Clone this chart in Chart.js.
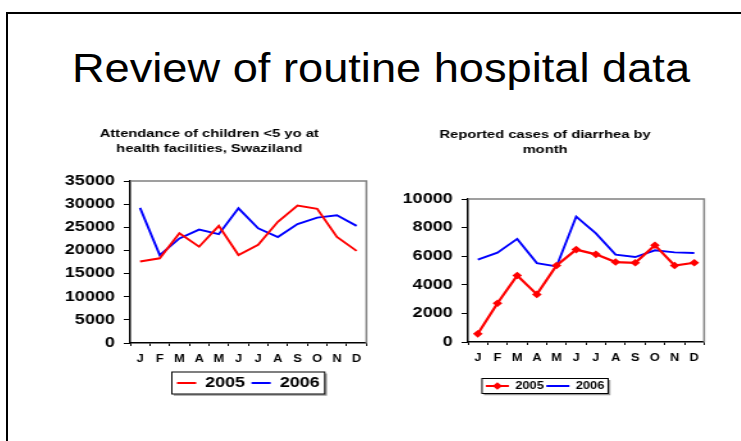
<!DOCTYPE html>
<html>
<head>
<meta charset="utf-8">
<script src="https://cdn.jsdelivr.net/npm/chart.js@4"></script>
<style>
  body { margin: 0; background: #fff; }
  #slide { position: relative; width: 741px; height: 441px; overflow: hidden; background: #fff; }
  #frame { position: absolute; left: 6px; top: 12px; width: 800px; height: 500px;
           border-top: 2px solid #000; border-left: 2px solid #000; }
  #heading { position: absolute; left: 0; top: 46px; width: 762px; height: 48px; line-height: 48px;
             text-align: center; font: 40px 'Liberation Sans', Arial, sans-serif; color: #000;
             transform: scaleX(1.13); transform-origin: 381px 24px; white-space: nowrap; }
  canvas { position: absolute; }
</style>
</head>
<body>
<div id="slide">
  <div id="frame"></div>
  <div id="heading">Review of routine hospital data</div>
  <canvas id="attendChart" width="252" height="282" style="left:52px; top:118px; width:322.5px; height:282px;"></canvas>
  <canvas id="diarrheaChart" width="253" height="282" style="left:386px; top:119px; width:324px; height:282px;"></canvas>
</div>
<script>
// data
const months = ["J", "F", "M", "A", "M", "J", "J", "A", "S", "O", "N", "D"];

const attend2005 = [17600, 18300, 23700, 20800, 25300, 19000, 21200, 26200, 29700, 29000, 22900, 19900];
const attend2006 = [29200, 19000, 22600, 24500, 23500, 29100, 24800, 22900, 25700, 27100, 27600, 25300];

const diarrhea2005 = [570, 2710, 4650, 3330, 5350, 6460, 6130, 5590, 5540, 6770, 5350, 5540];
const diarrhea2006 = [5760, 6250, 7210, 5520, 5280, 8770, 7600, 6110, 5940, 6410, 6270, 6220];

const attendTicks = { min: 0, max: 35000, step: 5000 };
const diarrheaTicks = { min: 0, max: 10000, step: 2000 };

const FONT = "'Liberation Sans', Arial, sans-serif";
Chart.defaults.color = "#000";
Chart.defaults.font.family = FONT;

// grey box round the plot area (top + right side)
const plotFrame = {
  id: "plotFrame",
  beforeDatasetsDraw(chart) {
    const { ctx, chartArea: a } = chart;
    ctx.save();
    ctx.strokeStyle = "#808080";
    ctx.lineWidth = 1.5;
    ctx.beginPath();
    ctx.moveTo(a.left, a.top);
    ctx.lineTo(a.right, a.top);
    ctx.lineTo(a.right, a.bottom);
    ctx.stroke();
    ctx.restore();
  }
};

// black box round the legend, plus diamond markers when asked
const legendBox = {
  id: "legendBox",
  afterDraw(chart, args, opts) {
    const lg = chart.legend;
    if (!lg || !lg.legendHitBoxes.length) return;
    const hb = lg.legendHitBoxes;
    const left = Math.min(...hb.map(h => h.left)) - opts.padX;
    const right = Math.max(...hb.map(h => h.left + h.width)) + opts.padX;
    const top = hb[0].top - opts.padY;
    const bottom = hb[0].top + hb[0].height + opts.padY;
    const ctx = chart.ctx;
    ctx.save();
    ctx.strokeStyle = "#999";
    ctx.lineWidth = 1.5;
    ctx.beginPath();
    ctx.moveTo(left + 1.5, bottom + 1);
    ctx.lineTo(right + 1, bottom + 1);
    ctx.lineTo(right + 1, top + 1.5);
    ctx.stroke();
    ctx.strokeStyle = "#000";
    ctx.lineWidth = 1;
    ctx.strokeRect(left, top, right - left, bottom - top);

    const boxW = chart.options.plugins.legend.labels.boxWidth;
    const fontSize = chart.options.plugins.legend.labels.font.size;
    hb.forEach((h, i) => {
      const ds = chart.data.datasets[i];
      if (ds.pointStyle !== "rectRot") return;
      const cx = h.left + boxW / 2;
      const cy = h.top + fontSize / 2;
      const r = ds.pointRadius;
      ctx.fillStyle = ds.borderColor;
      ctx.beginPath();
      ctx.moveTo(cx, cy - r);
      ctx.lineTo(cx + r, cy);
      ctx.lineTo(cx, cy + r);
      ctx.lineTo(cx - r, cy);
      ctx.closePath();
      ctx.fill();
    });
    ctx.restore();
  }
};

function lineLabels(chart) {
  return Chart.defaults.plugins.legend.labels.generateLabels(chart).map(item => {
    const ds = chart.data.datasets[item.datasetIndex];
    item.fillStyle = ds.borderColor;
    item.lineWidth = 0;
    return item;
  });
}

function makeChart(id, cfg) {
  return new Chart(document.getElementById(id), {
    type: "line",
    data: { labels: months, datasets: cfg.datasets },
    options: {
      responsive: false,
      animation: false,
      layout: { padding: { left: 0, right: cfg.padRight, top: 0, bottom: 0 } },
      plugins: {
        title: {
          display: true,
          text: cfg.title,
          font: { size: 11.5, weight: "bold", lineHeight: 1.3 },
          padding: { top: 8, bottom: cfg.titleGap }
        },
        legend: {
          position: "bottom",
          fullSize: cfg.legendFull,
          labels: {
            boxWidth: cfg.legend.boxWidth,
            boxHeight: 2,
            padding: cfg.legend.padding,
            font: { size: cfg.legend.size, weight: "bold" },
            generateLabels: lineLabels
          }
        },
        legendBox: cfg.legend.box,
        tooltip: { enabled: false }
      },
      scales: {
        x: {
          offset: true,
          afterFit: s => { s.height = cfg.xHeight; },
          border: { color: "#000", width: 1.5 },
          grid: { offset: true, drawOnChartArea: false, drawTicks: true, tickLength: 3, color: "#000" },
          ticks: { font: { size: 10, weight: "bold" }, padding: 7, maxRotation: 0, autoSkip: false }
        },
        y: {
          min: cfg.ticks.min,
          max: cfg.ticks.max,
          afterFit: s => { s.width = cfg.yWidth; },
          border: { color: "#000", width: 1.5 },
          grid: { drawOnChartArea: false, drawTicks: true, tickLength: 5, color: "#000" },
          ticks: {
            stepSize: cfg.ticks.step,
            padding: 7,
            font: { size: 14, weight: "bold" },
            callback: v => String(v)
          }
        }
      }
    },
    plugins: [plotFrame, legendBox]
  });
}

makeChart("attendChart", {
  title: ["Attendance of children <5 yo at", "health facilities, Swaziland"],
  titleGap: 25.1,
  padRight: 6.7,
  yWidth: 61,
  xHeight: 28,
  legendFull: false,
  ticks: attendTicks,
  legend: { boxWidth: 15, padding: 5, size: 14, box: { padX: 4, padY: 4 } },
  datasets: [
    { label: "2005", data: attend2005, borderColor: "#ff0000", borderWidth: 1.9, pointRadius: 0, tension: 0 },
    { label: "2006", data: attend2006, borderColor: "#0000ff", borderWidth: 1.9, pointRadius: 0, tension: 0 }
  ]
});

makeChart("diarrheaChart", {
  title: ["Reported cases of diarrhea by", "month"],
  titleGap: 42.1,
  padRight: 4.6,
  yWidth: 64,
  xHeight: 37,
  legendFull: true,
  ticks: diarrheaTicks,
  legend: { boxWidth: 18, padding: 2, size: 10, box: { padX: 3, padY: 2.5 } },
  datasets: [
    { label: "2005", data: diarrhea2005, borderColor: "#ff0000", backgroundColor: "#ff0000", borderWidth: 2.2,
      pointStyle: "rectRot", pointRadius: 3.8, pointBorderWidth: 0, tension: 0 },
    { label: "2006", data: diarrhea2006, borderColor: "#0000ff", borderWidth: 1.9, pointRadius: 0, tension: 0 }
  ]
});
</script>
</body>
</html>
